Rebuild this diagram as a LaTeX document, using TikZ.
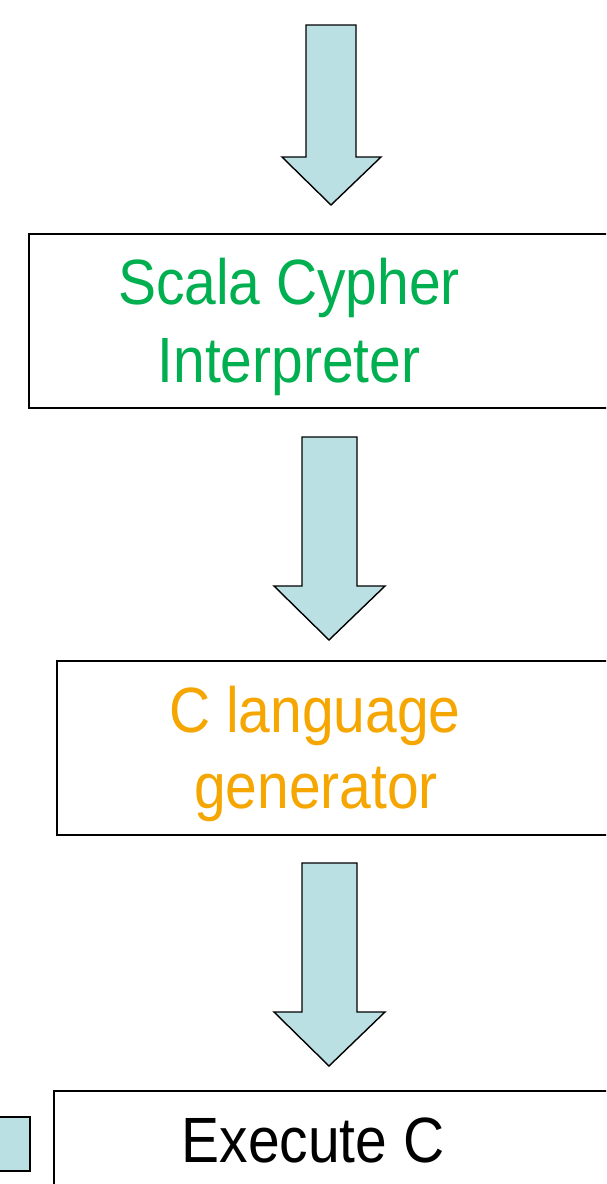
\documentclass[tikz,border=0pt]{standalone}
\usepackage{fontspec}
\setmainfont{Liberation Sans}
\definecolor{arrowfill}{RGB}{187,224,227}
\definecolor{stepgreen}{RGB}{0,176,80}
\definecolor{steporange}{RGB}{245,166,0}
\tikzset{
  stagebox/.style={draw=black, line width=1.8pt, fill=white},
  blockarrow/.style={draw=black, line width=1.4pt, fill=arrowfill, line join=miter},
  label/.style={anchor=base, inner sep=0pt, xscale=0.89, font=\fontsize{64}{77}\selectfont},
}
\begin{document}
\begin{tikzpicture}[x=1pt, y=-1pt]
\useasboundingbox (0,0) rectangle (606,1184);
\clip (0,0) rectangle (606,1184);

% stage boxes (they run past the right edge)
\draw[stagebox] (29,234) rectangle (640,408);
\draw[stagebox] (57,661) rectangle (640,835);
\draw[stagebox] (54,1091) rectangle (640,1220);

% small square at the lower left
\draw[blockarrow] (-5,1117) rectangle (30,1171);

% block arrows
\draw[blockarrow] (306,25) -- (356,25) -- (356,157) -- (381,157) -- (331,205)
  -- (282,157) -- (306,157) -- cycle;
\draw[blockarrow] (302,437) -- (357,437) -- (357,586) -- (385,586) -- (329,640)
  -- (274,586) -- (302,586) -- cycle;
\draw[blockarrow] (302,863) -- (357,863) -- (357,1012) -- (385,1012) -- (329,1066)
  -- (274,1012) -- (302,1012) -- cycle;

% texts
\node[label, text=stepgreen] (scalaA) at (289,304) {Scala Cypher};
\node[label, text=stepgreen] (scalaB) at (289,382) {Interpreter};
\node[label, text=steporange] (genA) at (315,732) {C language};
\node[label, text=steporange] (genB) at (316,808) {generator};
\node[label, text=black] (exec) at (313,1162) {Execute C};
\end{tikzpicture}
\end{document}
